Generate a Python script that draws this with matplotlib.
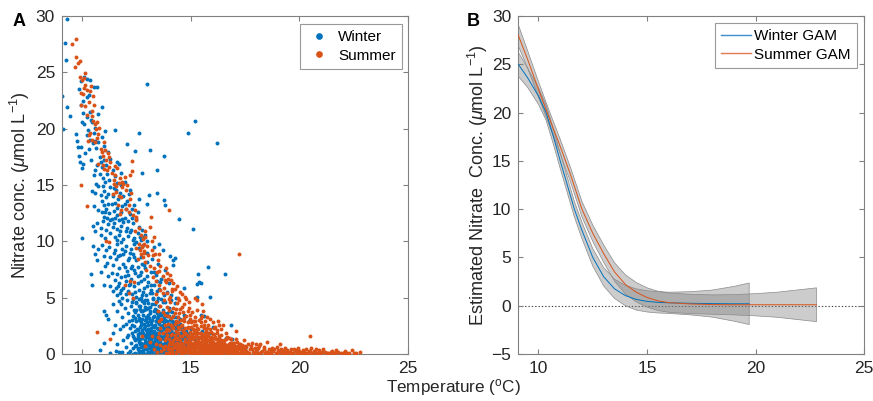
import numpy as np
import matplotlib
matplotlib.use("Agg")
import matplotlib.pyplot as plt
from matplotlib.lines import Line2D

plt.rcParams['font.family'] = ['Liberation Sans', 'DejaVu Sans']
plt.rcParams['mathtext.fontset'] = 'custom'
plt.rcParams['mathtext.rm'] = 'Liberation Sans'
plt.rcParams['mathtext.it'] = 'Liberation Sans:italic'
plt.rcParams['mathtext.bf'] = 'Liberation Sans:bold'

# ---------------- Panel A data: (temperature, nitrate) ----------------
winter_pts = [
 (9.28,29.7),(9.20,27.6),(9.27,26.1),(9.07,22.9),(9.28,21.9),(9.10,20.0),(9.45,21.1),(12.99,24.0),(15.18,20.7),
 (14.85,19.6),(16.2,18.7),(12.6,19.6),(11.5,19.9),(13.1,18.1),(13.77,17.6),(12.42,18.0),(12.06,18.6),(13.44,16.3),
 (12.76,16.1),(13.44,14.3),(13.08,14.1),(13.77,13.7),(13.81,13.2),(12.99,13.3),(12.6,13.8),(14.47,12.0),(15.1,11.1),
 (16.56,7.1),(15.8,7.7),(15.32,7.1),(15.4,6.4),(15.28,6.2),(15.45,6.3),(15.28,5.1),(15.9,5.1),(14.7,5.9),(16.84,2.6),
 (14.16,8.3),(14.05,8.7),(14.28,8.5),(14.2,7.9),(10.0,10.3),(10.4,7.1),(10.47,6.1),(11.0,3.8),(11.1,3.5),(10.8,0.35),
 (11.0,0.95),(11.4,1.9),(11.3,0.1),(11.55,0.3),(11.7,0.2),(11.85,0.15),(12.1,0.1),(16.6,1.4),(16.3,1.3),(16.0,2.4),
 (15.6,3.4),(15.45,3.5),(15.9,1.9),(15.5,2.0),(15.3,1.9),(16.9,1.3),(17.2,0.6),(17.5,0.5),(18.0,0.3),
 (9.7,19.5),(9.75,18.9),(9.8,18.4),(9.85,17.6),(9.95,18.4),(9.9,17.0),(10.05,16.9),(10.0,16.5),(10.15,17.8),(10.3,18.2),
 (10.2,19.4),(10.35,19.0),(10.5,18.7),(10.6,18.9),(10.65,18.3),(10.75,18.8),(10.8,17.5),(10.85,17.0),(10.7,16.8),
 (10.6,16.3),(10.8,16.0),(10.9,16.6),(10.95,15.6),(11.0,17.2),(11.1,16.8),(11.2,17.9),(11.3,17.3),(11.15,16.0),
 (11.25,15.4),(11.4,16.3),(11.5,15.8),(11.6,17.0),(11.7,16.9),(11.6,15.2),(11.8,16.1),(11.95,15.3),(10.55,15.9),
 (10.65,15.1),(11.05,15.3),(10.4,17.2),(11.0,18.5),(10.9,19.3),(11.05,19.8),(10.6,20.1),(10.75,21.3),(10.9,21.9),
 (10.45,20.6),(10.35,21.5),(10.2,21.0),(10.1,20.4),(10.0,20.6),(9.95,22.1),(10.05,22.5),(10.2,22.8),(10.3,23.0),
 (9.85,23.5),(9.95,24.2),(10.1,24.6),(10.2,24.4),(10.35,24.3),(10.55,23.7),(10.7,23.7),(10.05,21.4),(10.25,19.9),
 (10.55,19.6),(10.4,20.8),
 (10.6,14.3),(10.75,14.9),(10.85,14.1),(10.9,13.6),(11.0,14.5),(11.1,13.9),(11.2,14.2),(11.3,14.8),(11.4,14.0),
 (11.5,13.4),(11.55,14.6),(11.65,13.8),(11.75,14.3),(11.85,13.1),(11.9,14.0),(12.05,13.6),(12.2,14.6),(12.3,12.9),
 (10.55,13.1),(10.75,12.8),(10.9,12.6),(11.0,12.2),(11.1,12.9),(11.25,12.5),(11.35,12.0),(11.45,12.7),(11.6,12.3),
 (11.7,11.9),(11.8,12.6),(11.95,12.1),(12.1,11.8),(12.2,12.4),(12.35,11.6),(12.5,12.0),(12.6,11.3),(12.75,11.0),
 (12.9,10.6),(10.7,11.6),(10.85,11.2),(10.95,11.8),(11.1,11.0),(11.2,11.5),(11.3,10.7),(11.4,11.3),(11.5,10.4),
 (11.6,11.1),(11.7,10.6),(11.8,11.4),(11.9,10.2),(12.0,10.9),(12.1,10.5),(12.25,11.0),(12.4,10.3),(12.55,10.7),
 (12.7,10.1),(12.85,10.4),(13.0,10.0),(11.05,10.3),(10.85,10.6),(10.6,10.9),(10.5,11.4),(11.35,13.3),(11.0,13.2),
 (12.4,13.2),(12.0,12.9),(10.45,14.5),(11.8,15.0),(12.55,12.6),(12.15,14.2),
 (10.5,9.6),(10.6,8.9),(10.7,8.3),(10.75,9.3),(10.9,9.7),(11.0,8.7),(11.1,9.2),(11.15,8.1),(11.25,9.5),(11.3,8.6),
 (11.4,7.9),(11.45,9.0),(11.55,8.4),(11.6,9.8),(11.7,7.6),(11.75,8.8),(11.85,9.3),(11.9,8.0),(12.0,9.6),(12.05,7.4),
 (12.15,8.5),(12.2,9.0),(12.3,7.8),(12.35,8.9),(12.45,7.2),(12.5,8.3),(12.6,9.4),(12.65,7.0),(12.75,8.0),(12.85,6.7),
 (12.9,7.6),(13.0,9.0),(13.05,6.4),(13.15,7.3),(13.2,8.4),(13.3,6.1),(13.4,7.0),(13.5,8.0),(13.55,5.8),(13.65,6.7),
 (13.7,9.2),(13.8,7.5),(13.9,5.5),(14.0,6.3),(14.1,5.2),(10.85,7.3),(11.05,7.8),(11.2,6.9),(11.35,7.2),(11.5,6.6),
 (11.6,7.1),(11.7,6.3),(11.8,6.8),(11.9,5.9),(12.0,6.5),(12.1,5.6),(12.2,6.2),(12.3,5.3),(12.4,6.0),(12.5,5.1),
 (12.6,5.7),(12.7,5.0),(12.8,5.5),(12.95,5.2),(13.1,5.4),(13.25,5.0),(11.4,5.6),(11.6,5.2),(11.75,5.4),(11.85,5.0),
 (11.95,6.9),(12.25,7.6),(12.55,6.9),(12.8,9.7),(13.3,9.5),(13.55,9.8),(13.0,8.2),(12.4,9.8),(11.3,6.0),(11.55,5.9),
 (11.9,8.9),(12.7,8.6),(13.45,6.5),(13.75,5.2),(14.3,5.0),(11.0,6.1),
 (11.5,9.2),(11.65,8.7),(11.8,9.9),(11.95,9.1),(12.1,8.3),(12.25,9.3),(12.4,8.6),(12.55,7.7),(12.7,7.3),(12.85,7.9),
 (13.0,6.9),(13.15,6.1),(13.3,7.3),(13.45,5.6),(13.6,6.4),(11.95,7.7),(12.1,7.0),(12.25,6.7),(12.4,7.5),(12.55,6.3),
 (12.7,6.5),(12.85,5.9),(13.0,6.0),(13.15,5.7),(11.65,6.0),(11.8,5.7),(12.0,5.3),(12.15,6.1),(12.3,4.6),(12.45,5.5),
 (12.6,4.3),(12.75,5.2),(12.9,4.8),(13.05,4.5),(13.2,5.4),(13.35,4.4),(13.5,5.0),(13.7,4.6),(11.3,11.9),(11.45,11.6),
 (11.6,10.1),(11.75,10.9),(11.9,11.7),(12.05,11.2),(12.2,10.8),(12.35,10.1),(12.5,9.9),(12.65,10.4),(11.15,12.1),
 (11.5,12.1),(11.85,12.0),(12.3,12.1),(11.2,13.3),(11.6,13.0),(11.95,13.3),(10.95,14.9),(11.45,14.7),(11.05,12.6),
 (11.2,3.1),(11.4,4.4),(11.5,2.6),(11.6,3.8),(11.7,4.7),(11.75,2.2),(11.85,3.3),(11.95,4.1),(12.0,2.7),(12.05,4.8),
 (12.1,3.6),(12.2,2.3),(12.25,4.3),(12.3,3.0),(12.35,4.9),(12.4,2.5),(12.45,3.7),(12.5,4.5),(12.55,2.1),(12.6,3.2),
 (12.65,4.0),(12.7,2.8),(12.75,4.7),(12.8,3.5),(12.85,2.3),(12.9,4.2),(12.95,3.0),(13.0,4.8),(13.05,2.6),(13.1,3.8),
 (13.15,2.0),(13.2,4.4),(13.25,3.3),(13.3,2.4),(13.35,4.0),(13.4,2.9),(13.45,3.6),(13.5,2.2),(13.55,4.3),(13.6,3.1),
 (13.65,2.5),(13.7,3.9),(13.75,2.8),(13.8,4.6),(13.85,2.1),(13.9,3.4),(13.95,2.6),(14.0,4.1),(14.05,3.0),(14.1,2.3),
 (14.15,3.7),(14.2,2.7),(14.25,4.5),(14.3,2.2),(14.35,3.3),(14.4,2.5),(14.5,3.1),(14.6,2.4),(14.7,3.5),(14.8,2.0),
 (14.9,2.9),(15.0,2.2),(12.15,2.9),(12.45,2.0),(12.75,3.8),(13.05,3.5),(13.25,4.9),(13.45,4.7),(13.65,4.9),(12.95,2.1),
 (12.35,3.4),(11.9,2.5),(12.6,4.9),(13.15,2.8),(13.75,3.3),(13.9,2.0),(14.1,4.8),(12.85,4.5),(12.5,3.9),(11.8,4.4),
 (11.9,1.2),(12.0,0.6),(12.1,1.7),(12.2,0.3),(12.25,1.0),(12.3,1.9),(12.35,0.5),(12.4,1.4),(12.45,0.1),(12.5,0.8),
 (12.55,1.6),(12.6,0.3),(12.62,1.1),(12.65,1.9),(12.7,0.6),(12.72,0.05),(12.75,1.4),(12.8,0.9),(12.82,0.2),(12.85,1.7),
 (12.88,0.5),(12.9,1.2),(12.92,0.02),(12.95,0.8),(12.97,1.9),(13.0,0.4),(13.02,1.5),(13.05,0.1),(13.07,1.0),(13.1,0.6),
 (13.12,1.8),(13.15,0.3),(13.17,1.3),(13.2,0.05),(13.22,0.8),(13.25,1.6),(13.27,0.4),(13.3,1.1),(13.32,0.02),(13.35,0.7),
 (13.37,1.9),(13.4,0.2),(13.42,1.4),(13.45,0.5),(13.47,1.0),(13.5,0.1),(13.52,1.7),(13.55,0.6),(13.57,0.3),(13.6,1.2),
 (13.62,0.05),(13.65,0.9),(13.67,1.5),(13.7,0.35),(13.72,0.7),(13.75,0.1),(13.77,1.8),(13.8,0.5),(13.82,1.1),(13.85,0.2),
 (13.87,0.8),(13.9,1.4),(13.92,0.05),(13.95,0.6),(13.97,1.0),(14.0,0.3),(14.02,1.6),(14.05,0.1),(14.08,0.8),(14.1,1.2),
 (14.12,0.4),(14.15,0.02),(14.18,1.9),(14.2,0.6),(14.22,1.0),(14.25,0.2),(14.28,1.4),(14.3,0.5),(14.33,0.05),(14.35,0.9),
 (14.38,1.6),(14.4,0.3),(14.45,1.1),(14.5,0.1),(14.55,0.7),(14.6,1.3),(14.65,0.4),(14.7,0.9),(14.75,0.1),(14.8,1.5),
 (14.85,0.5),(14.9,0.2),(14.95,1.0),(15.0,0.3),(15.1,0.7),(15.2,1.2),(15.3,0.2),(15.4,0.5),(15.5,0.9),(12.15,0.05),
 (12.45,1.2),(12.58,0.55),(12.68,1.35),(12.78,0.35),(12.93,1.5),(13.03,0.85),(13.13,0.2),(13.28,1.85),(13.38,1.2),
 (13.48,0.75),(13.58,1.95),(13.68,0.6),(13.78,1.3),(13.88,0.45),(13.98,1.75),(14.08,0.25),(14.18,1.05),(14.28,0.75),
 (14.42,1.85),(14.52,0.45),(14.62,0.02),(14.72,1.7),(14.82,0.85),(15.05,1.6),(15.15,0.1),(15.35,1.4),(15.6,0.4),
 (15.7,1.1),(15.8,0.15),(16.0,0.6),(11.6,0.9),(12.05,1.5),(12.35,0.02),(12.55,0.02),(12.85,0.02),(13.15,0.02),
 (12.31,2.6),(12.38,3.9),(12.42,0.7),(12.47,2.9),(12.52,1.3),(12.57,3.5),(12.61,0.2),(12.64,2.4),(12.67,4.3),(12.71,1.0),
 (12.74,2.1),(12.77,3.1),(12.79,0.7),(12.83,2.7),(12.86,3.9),(12.89,1.0),(12.91,2.5),(12.94,0.4),(12.96,3.3),(12.99,1.7),
 (13.01,2.2),(13.04,4.1),(13.06,0.7),(13.08,1.3),(13.11,2.9),(13.13,3.6),(13.16,0.9),(13.18,2.3),(13.21,1.5),(13.23,3.0),
 (13.26,0.6),(13.29,2.0),(13.31,3.8),(13.33,1.3),(13.36,2.6),(13.39,0.3),(13.41,1.8),(13.44,3.2),(13.46,2.3),(13.49,1.3),
 (13.51,0.4),(13.54,2.7),(13.56,1.1),(13.59,3.6),(13.61,2.0),(13.64,0.8),(13.66,2.4),(13.69,1.4),(13.71,3.1),(13.74,0.6),
 (13.76,2.2),(13.79,1.0),(13.81,3.0),(13.84,1.6),(13.86,2.4),(13.89,0.3),(13.91,2.9),(13.94,1.2),(13.96,2.1),(13.99,0.8),
 (14.01,3.4),(14.04,1.5),(14.06,2.6),(14.09,0.5),(14.11,1.9),(14.14,2.9),(14.16,0.9),(14.19,1.5),(14.21,3.3),(14.24,0.4),
 (14.26,2.5),(14.29,1.7),(14.31,0.2),(14.34,2.1),(14.36,1.2),(14.39,2.8),(14.41,0.6),(14.44,1.6),(14.46,2.3),(14.49,0.9),
 (14.53,1.9),(14.57,0.3),(14.61,1.0),(14.66,2.2),(14.71,0.6),(14.76,1.3),(14.81,0.2),(14.86,1.8),(14.92,0.7),(14.97,1.3),
 (12.36,1.6),(12.41,3.2),(12.46,4.6),(12.51,2.2),(12.56,0.4),(12.59,1.8),(12.63,3.0),(12.66,0.9),(12.69,2.6),(12.73,3.8),
 (12.76,0.3),(12.81,1.9),(12.84,0.8),(12.87,3.0),(12.9,1.6),(12.93,4.0),(12.98,2.8),(13.0,1.1),(13.03,0.2),(13.06,3.2),
 (13.09,2.0),(13.12,0.5),(13.14,4.2),(13.17,1.6),(13.19,2.7),(13.22,0.3),(13.24,1.1),(13.27,2.5),(13.3,3.4),(13.32,0.9),
 (13.35,1.6),(13.38,2.9),(13.4,3.9),(13.43,0.7),(13.45,1.9),(13.48,2.8),(13.5,3.4),(13.53,1.0),(13.55,2.2),(13.58,0.2),
 (13.6,1.6),(13.63,2.9),(13.65,3.5),(13.68,0.5),(13.7,1.9),(13.73,2.6),(13.75,3.6),(13.78,0.9),(13.8,1.6),(13.83,2.5),
 (13.85,0.6),(13.88,1.9),(13.9,3.6),(13.93,2.4),(13.95,1.5),(13.98,0.2),(14.0,2.7),(14.03,1.0),(14.05,3.8),(14.08,2.0),
 (14.1,0.7),(14.13,1.4),(14.15,2.3),(14.18,0.3),(14.2,1.8),(14.23,2.8),(14.25,1.1),(14.28,0.1),(14.3,1.6),(14.33,2.6),
 (14.35,0.7),(14.38,1.9),(14.4,1.1),(14.43,0.4),(14.47,1.4),(14.51,2.7),(14.55,1.1),(14.6,2.0),(14.64,0.6),(14.69,1.5),
 (14.74,0.9),(14.79,1.9),(14.84,0.4),(14.89,1.1),(14.94,0.5),
]

summer_pts = [
 (9.7,28.0),(9.51,27.5),(9.72,26.4),(9.88,26.0),(9.8,25.8),(9.68,25.5),(9.9,24.6),(10.0,24.3),(10.1,24.5),(10.15,23.9),
 (10.4,23.8),(10.35,23.3),(10.05,23.1),(9.95,22.1),(10.15,22.0),(10.3,22.4),(10.45,21.6),(10.2,21.2),(10.5,20.7),
 (10.6,20.4),(10.7,20.6),(10.65,20.0),(10.75,19.5),(10.3,19.4),(10.25,18.9),(10.1,23.6),(9.95,23.2),(10.55,22.1),
 (10.35,19.6),(10.45,19.0),(10.6,18.8),(10.85,18.2),(10.95,17.6),(11.05,18.1),(11.2,17.8),(11.1,17.2),(10.95,16.8),
 (11.25,16.6),(11.35,16.1),(11.5,16.7),(11.6,16.5),(11.75,15.6),(11.85,15.3),(11.9,15.1),(12.05,15.0),(12.2,15.9),
 (12.3,16.2),(12.3,17.1),(11.7,15.2),(11.45,15.4),(11.3,17.0),(11.0,16.4),(10.75,16.9),(9.94,15.0),(11.95,15.7),
 (11.55,14.9),(12.0,14.6),(12.25,14.3),
 (10.2,13.1),(11.4,14.2),(11.55,14.4),(11.65,13.2),(11.8,12.8),(12.0,12.9),(12.15,13.2),(12.35,12.3),(12.5,11.9),
 (12.6,11.2),(12.7,10.6),(12.8,10.2),(12.85,9.8),(12.75,9.6),(13.1,11.3),(13.3,10.4),(13.15,12.2),(14.0,12.8),
 (11.75,12.4),(12.45,12.8),(12.9,10.9),(13.2,10.0),(11.1,10.0),(11.25,9.9),(11.7,14.0),
 (10.12,24.9),(10.2,23.4),(10.48,22.9),(10.45,21.1),(10.78,20.1),(10.7,19.2),(11.0,18.8),(10.9,17.9),(11.25,17.5),
 (11.15,16.3),(11.5,15.9),(11.45,15.1),(11.85,14.8),(11.8,13.9),(12.2,13.8),(12.15,12.6),(12.5,12.2),(12.45,10.9),
 (12.9,10.4),(12.85,9.0),(13.25,8.8),(13.1,7.8),(13.55,7.4),(13.4,6.5),(13.85,6.4),(13.7,5.4),(14.15,5.8),(14.0,4.9),
 (13.85,7.6),(13.55,8.9),
 (12.5,9.4),(12.6,9.8),(12.65,9.2),(12.7,8.9),(12.75,9.5),(12.8,8.6),(12.85,9.1),(12.9,8.2),(13.0,9.6),(13.05,8.8),
 (13.2,9.2),(13.35,8.9),(13.5,8.3),(13.3,7.6),(13.45,7.3),(13.6,7.8),(13.7,6.9),(13.8,6.6),(13.9,7.2),(13.95,6.7),
 (14.05,7.0),(14.1,6.6),(14.2,6.3),(14.25,5.8),(14.35,6.0),(14.5,5.5),(13.55,6.1),(13.6,5.7),(13.75,5.9),(13.9,5.4),
 (14.05,5.1),(14.15,5.6),(14.4,5.0),(14.6,5.3),(14.75,5.1),(14.8,4.9),(12.4,6.4),(12.2,6.5),(13.25,6.8),(12.95,7.5),
 (12.55,8.4),(11.95,6.1),(12.35,5.0),(13.4,5.3),(15.2,5.0),(12.15,5.4),
 (13.4,4.6),(13.5,3.8),(13.6,4.3),(13.65,3.1),(13.75,4.8),(13.8,3.5),(13.9,4.2),(13.95,2.7),(14.0,3.9),(14.05,4.6),
 (14.1,3.2),(14.15,2.4),(14.2,4.1),(14.25,3.6),(14.3,2.9),(14.35,4.5),(14.4,3.3),(14.45,2.2),(14.5,4.0),(14.55,3.0),
 (14.6,2.6),(14.65,3.7),(14.7,4.4),(14.75,2.3),(14.8,3.4),(14.85,2.8),(14.9,4.1),(14.95,3.1),(15.0,2.4),(15.05,3.7),
 (15.1,2.9),(15.15,2.1),(15.2,3.3),(15.25,2.6),(15.3,3.9),(15.35,2.2),(15.4,3.0),(15.45,2.5),(15.5,3.4),(15.6,2.3),
 (15.65,2.9),(15.7,2.0),(15.8,2.6),(15.9,2.2),(16.0,2.8),(16.1,2.4),(16.2,2.1),(16.3,2.6),(16.4,2.2),(14.0,2.1),
 (14.3,2.0),(13.8,2.6),(13.55,2.9),(14.45,4.8),(14.9,4.6),(15.5,4.4),(15.3,4.8),(13.85,2.05),(15.55,3.8),(14.65,2.05),
 (15.9,3.1),(16.5,2.6),(17.06,2.0),(11.28,1.3),(10.69,1.98),(17.24,8.87),
 (14.1,2.6),(14.25,2.7),(14.4,2.8),(14.55,2.5),(14.7,2.9),(14.85,2.4),(15.0,2.8),(15.15,2.6),(15.3,2.3),(15.45,2.8),
 (15.6,2.6),(15.75,2.3),(14.2,3.4),(14.45,3.6),(14.7,3.2),(14.95,3.5),(15.2,2.9),(15.45,3.2),(14.3,4.0),(14.6,4.2),
 (14.85,3.8),(13.95,3.4),(13.7,3.7),(13.6,2.3),(15.75,3.3),(16.05,2.3),(16.25,2.9),
 (13.5,1.5),(13.6,0.8),(13.7,1.9),(13.75,0.4),(13.8,1.2),(13.85,0.1),(13.9,1.7),(13.95,0.6),(14.0,1.3),(14.05,0.2),
 (14.1,0.9),(14.15,1.8),(14.2,0.5),(14.25,1.4),(14.3,0.05),(14.35,1.0),(14.4,1.9),(14.45,0.3),(14.5,1.2),(14.55,0.7),
 (14.6,1.6),(14.62,0.1),(14.65,0.9),(14.7,0.4),(14.72,1.3),(14.75,1.9),(14.8,0.6),(14.82,0.15),(14.85,1.1),(14.88,1.6),
 (14.9,0.3),(14.93,0.8),(14.95,1.4),(14.98,0.05),(15.0,0.5),(15.02,1.0),(15.05,1.8),(15.08,0.25),(15.1,0.7),(15.12,1.3),
 (15.15,0.02),(15.18,0.45),(15.2,1.0),(15.22,1.6),(15.25,0.2),(15.28,0.7),(15.3,1.2),(15.32,0.05),(15.35,0.5),(15.38,1.5),
 (15.4,0.9),(15.42,0.15),(15.45,0.6),(15.48,1.1),(15.5,0.3),(15.52,1.7),(15.55,0.8),(15.58,0.05),(15.6,0.4),(15.62,1.3),
 (15.65,0.7),(15.68,0.2),(15.7,1.0),(15.72,1.6),(15.75,0.35),(15.78,0.8),(15.8,0.1),(15.82,1.2),(15.85,0.5),(15.88,0.9),
 (15.9,0.02),(15.92,1.5),(15.95,0.3),(15.98,0.7),(16.0,1.1),(16.03,0.15),(16.05,0.5),(16.08,1.8),(16.1,0.9),(16.13,0.25),
 (16.15,0.6),(16.18,1.3),(16.2,0.05),(16.23,0.4),(16.25,0.9),(16.28,1.6),(16.3,0.2),(16.33,0.6),(16.35,1.1),(16.38,0.02),
 (16.4,0.4),(16.45,0.8),(16.5,0.15),(16.55,1.2),(16.6,0.5),(16.65,0.1),(16.7,0.8),(16.75,1.4),(16.8,0.3),(16.85,0.6),
 (16.9,0.05),(16.95,1.0),(17.0,0.3),(17.05,0.7),(17.1,0.1),(17.15,1.1),(17.2,0.4),(17.3,0.2),(17.35,0.8),(17.4,0.05),
 (17.45,0.5),(17.5,0.15),(14.05,0.55),(14.15,1.05),(14.28,0.6),(14.38,1.45),(14.48,0.85),(14.58,0.25),(14.68,1.75),
 (14.78,1.05),(14.87,0.55),(14.97,1.95),(15.07,1.45),(15.17,0.75),(15.27,1.9),(15.37,0.3),(15.47,1.85),(15.57,1.2),
 (15.67,1.9),(15.77,0.6),(15.87,1.35),(15.97,0.45),(16.07,1.45),(16.17,0.85),(16.27,1.2),(16.37,1.7),(16.47,0.6),
 (16.57,0.3),(16.67,1.5),(16.77,0.9),(16.87,1.3),(16.97,0.5),(17.07,1.3),(17.17,0.7),(17.27,0.9),(17.37,0.35),
 (17.55,0.6),(17.6,0.2),(17.65,0.9),(14.3,0.95),(14.5,0.45),(14.7,0.15),(14.9,1.25),(15.1,0.35),(15.3,0.85),(15.5,1.35),
 (15.7,0.55),(15.9,0.65),(16.1,0.35),(16.3,1.0),(16.5,0.35),(16.7,0.25),(16.9,0.75),(17.1,0.45),(17.3,0.55),(16.2,1.9),
 (16.0,1.75),(15.8,1.9),(16.6,1.85),(15.95,1.95),(13.65,0.3),(13.4,0.9),(13.3,0.4),(13.2,1.6),(13.1,1.1),(12.9,0.7),
 (12.75,1.6),(13.55,1.9),(13.95,0.05),(14.1,0.02),
 (13.82,0.7),(13.88,1.4),(13.92,2.2),(13.97,0.4),(14.02,1.1),(14.07,1.7),(14.12,0.3),(14.17,2.3),(14.22,0.8),(14.27,1.7),
 (14.32,0.2),(14.37,1.3),(14.42,2.4),(14.47,0.6),(14.52,1.6),(14.57,1.0),(14.62,2.1),(14.67,0.5),(14.71,1.1),(14.76,0.3),
 (14.81,1.7),(14.85,0.8),(14.89,2.3),(14.93,0.2),(14.97,1.1),(15.01,1.6),(15.04,0.4),(15.08,2.2),(15.11,0.9),(15.14,1.5),
 (15.17,0.3),(15.21,1.1),(15.24,2.0),(15.27,0.6),(15.31,1.5),(15.34,0.1),(15.37,0.9),(15.41,1.9),(15.44,0.4),(15.47,1.4),
 (15.51,0.8),(15.54,0.1),(15.57,1.6),(15.61,0.6),(15.64,1.1),(15.67,0.3),(15.71,1.4),(15.74,0.8),(15.77,0.1),(15.81,1.6),
 (15.84,0.4),(15.87,1.1),(15.91,0.7),(15.94,0.2),(15.97,1.3),(16.01,0.5),(16.04,0.9),(16.07,0.2),(16.11,1.5),(16.14,0.6),
 (16.17,0.1),(16.21,1.0),(16.24,0.3),(16.27,0.7),(16.31,1.3),(16.34,0.2),(16.37,0.8),(16.41,1.2),(16.44,0.3),(16.48,0.6),
 (16.52,1.0),(16.56,0.2),(16.6,0.8),(16.64,1.3),(16.68,0.4),(16.72,0.1),(16.76,0.6),(16.81,1.0),(16.86,0.2),(16.91,0.5),
 (16.96,0.3),(17.01,1.0),(17.06,0.2),(17.11,0.6),(17.18,0.1),(17.25,0.5),(17.33,0.1),(17.42,0.3),(17.48,0.7),(17.52,0.05),
 (14.15,0.05),(14.35,0.4),(14.55,0.05),(14.75,0.65),(14.95,0.45),(15.15,1.9),(15.35,1.15),(15.55,0.45),(15.75,1.25),
 (15.95,0.95),(16.15,0.4),(16.35,0.5),(16.55,0.7),(16.75,0.15),(16.95,0.7),(17.15,0.25),(17.35,0.6),(15.05,0.15),
 (15.25,0.1),(15.45,0.15),(15.65,0.05),(15.85,0.25),(16.05,0.05),(16.25,0.15),(16.45,0.05),(16.65,0.65),(16.85,0.95),
 (14.6,0.55),(14.8,0.35),(15.0,0.9),(15.2,0.55),(15.4,0.3),(15.6,0.9),(15.8,0.45),(16.0,0.35),(16.2,0.75),(16.4,0.95),
 (16.6,0.15),(16.8,0.55),(17.0,0.15),(17.2,0.85),(17.4,0.5),(14.4,0.7),(14.2,1.25),(14.0,0.85),(13.7,0.6),(13.6,1.3),
 (13.45,0.2),
 (17.7,0.1),(17.8,0.4),(17.9,0.05),(18.0,0.25),(18.1,0.5),(18.2,0.1),(18.3,0.3),(18.4,0.05),(18.5,0.2),(18.5,1.1),
 (18.6,0.4),(18.7,0.1),(18.8,0.25),(18.9,0.05),(19.0,0.35),(19.1,0.9),(19.1,0.15),(19.2,0.05),(19.3,0.3),(19.4,0.1),
 (19.5,0.2),(19.6,0.4),(19.7,0.05),(19.8,0.25),(19.9,0.1),(20.0,0.3),(20.1,0.05),(20.2,0.2),(20.3,0.45),(20.4,0.1),
 (20.47,1.63),(20.5,0.3),(20.6,0.05),(20.7,0.2),(20.8,0.1),(20.9,0.35),(21.0,0.05),(21.2,0.2),(21.3,0.1),(21.5,0.3),
 (21.6,0.05),(21.8,0.2),(22.0,0.1),(22.1,0.25),(22.3,0.05),(22.4,0.35),(22.5,0.1),(22.8,0.15),(17.75,0.7),(17.95,0.55),
 (18.15,0.75),(18.35,0.6),(18.55,0.05),(18.75,0.5),(18.95,0.6),(19.15,0.45),(19.35,0.55),(19.55,0.05),(19.75,0.45),
 (19.95,0.5),(20.15,0.35),(20.35,0.05),(20.55,0.55),(20.75,0.45),(21.1,0.4),(21.4,0.05),(21.7,0.35),(21.9,0.05),
 (22.2,0.05),(22.6,0.05),
 (17.55,0.3),(17.65,0.05),(17.72,0.45),(17.85,0.2),(17.98,0.1),(18.05,0.4),(18.12,0.05),(18.25,0.2),(18.38,0.4),
 (18.45,0.15),(18.62,0.05),(18.68,0.3),(18.82,0.45),(18.98,0.1),(19.05,0.25),(19.22,0.35),(19.28,0.05),(19.45,0.35),
 (19.58,0.2),(19.65,0.05),(19.85,0.35),(19.92,0.05),(20.05,0.15),(20.25,0.05),(20.42,0.25),(20.65,0.3),(20.85,0.05),
 (21.05,0.2),(21.25,0.05),(21.45,0.2),(21.65,0.1),(22.05,0.05),(17.8,1.0),(18.2,0.85),(17.45,1.2),(18.0,0.9),
]

# ---------------- Panel B data: GAM fits with CI half-widths ----------------
winter_gam_t = [9.07, 9.5, 10.0, 10.35, 10.7, 11.0, 11.3, 11.65, 12.0, 12.5, 13.0, 13.5, 14.0, 14.5, 15.0, 15.5, 16.0, 17.0, 18.0, 19.0, 19.7]
winter_gam_y = [25.0, 23.6, 21.7, 20.0, 17.4, 15.0, 12.7, 10.0, 7.8, 5.0, 3.0, 1.75, 1.05, 0.65, 0.45, 0.35, 0.3, 0.25, 0.22, 0.2, 0.2]
winter_gam_ci = [1.25, 1.0, 0.85, 0.8, 0.8, 0.8, 0.8, 0.8, 0.85, 0.9, 0.95, 1.0, 1.05, 1.1, 1.1, 1.1, 1.1, 1.2, 1.4, 1.8, 2.15]

summer_gam_t = [9.07, 9.5, 10.0, 10.5, 11.0, 11.5, 12.0, 12.5, 13.0, 13.5, 14.0, 14.5, 15.0, 15.5, 16.0, 17.0, 18.0, 19.0, 20.0, 21.0, 22.0, 22.8]
summer_gam_y = [28.0, 25.5, 22.4, 19.4, 16.5, 13.4, 10.0, 7.5, 5.4, 3.5, 2.2, 1.4, 0.85, 0.5, 0.32, 0.18, 0.12, 0.1, 0.1, 0.1, 0.1, 0.1]
summer_gam_ci = [1.1, 0.9, 0.8, 0.75, 0.75, 0.75, 0.8, 0.85, 0.9, 0.95, 1.0, 1.0, 1.0, 1.0, 1.0, 1.0, 1.0, 1.05, 1.15, 1.3, 1.55, 1.75]

BLUE = '#0072BD'
ORANGE = '#D95319'
AXC = '#808080'
TXT = '#262626'

fig = plt.figure(figsize=(8.73, 4.01), dpi=100)
axA = fig.add_axes([62/873, 47/401, 346/873, 338/401])
axB = fig.add_axes([518.3/873, 47/401, 346/873, 338/401])

def style(ax):
    for sp in ax.spines.values():
        sp.set_color(AXC)
        sp.set_linewidth(0.8)
    ax.tick_params(direction='in', length=3.5, width=0.8, color=AXC, labelcolor=TXT,
                   labelsize=12.5, top=True, right=True, pad=5)

w = np.array(winter_pts)
s = np.array(summer_pts)
axA.scatter(w[:, 0], w[:, 1], s=8, color=BLUE, linewidths=0, label='Winter', zorder=2)
axA.scatter(s[:, 0], s[:, 1], s=8, color=ORANGE, linewidths=0, label='Summer', zorder=3)
axA.set_xlim(9.07, 25)
axA.set_ylim(0, 30)
axA.set_xticks([10, 15, 20, 25])
axA.set_yticks([0, 5, 10, 15, 20, 25, 30])
style(axA)
axA.set_ylabel('Nitrate conc. ($\\mu$mol L$^{-1}$)', fontsize=13, color=TXT)
axA.yaxis.set_label_coords(-0.087, 0.5)
legA = axA.legend(handles=[Line2D([], [], ls='none', marker='o', ms=3.8, color=BLUE, label='Winter'),
                           Line2D([], [], ls='none', marker='o', ms=3.8, color=ORANGE, label='Summer')],
                  loc='upper right', fontsize=11, frameon=True, fancybox=False, edgecolor=AXC,
                  handlelength=1.6, handletextpad=0.5, borderpad=0.4, labelspacing=0.3,
                  bbox_to_anchor=(0.983, 0.976), borderaxespad=0)
legA.get_frame().set_linewidth(0.8)

# Panel B
wt = np.array(winter_gam_t); wy = np.array(winter_gam_y); wc = np.array(winter_gam_ci)
st = np.array(summer_gam_t); sy = np.array(summer_gam_y); sc = np.array(summer_gam_ci)
axB.axhline(0, color='#404040', lw=0.8, ls=(0, (1.2, 1.8)), zorder=1)
axB.fill_between(wt, wy - wc, wy + wc, facecolor='#808080', alpha=0.4, edgecolor='none', zorder=2)
axB.fill_between(st, sy - sc, sy + sc, facecolor='#808080', alpha=0.4, edgecolor='none', zorder=2)
for t, y, c in ((wt, wy, wc), (st, sy, sc)):
    axB.plot(np.r_[t, t[::-1], t[:1]], np.r_[y - c, (y + c)[::-1], (y - c)[:1]], color='#8a8a8a', lw=0.5, zorder=3)
axB.plot(wt, wy, color=BLUE, lw=0.7, zorder=4)
axB.plot(st, sy, color=ORANGE, lw=0.7, zorder=4)
axB.set_xlim(9.07, 25)
axB.set_ylim(-5, 30)
axB.set_xticks([10, 15, 20, 25])
axB.set_yticks([-5, 0, 5, 10, 15, 20, 25, 30])
style(axB)
axB.set_ylabel('Estimated Nitrate  Conc. ($\\mu$mol L$^{-1}$)', fontsize=13, color=TXT)
axB.yaxis.set_label_coords(-0.082, 0.5)
legB = axB.legend(handles=[Line2D([], [], color='#3d8fd1', lw=1.0, label='Winter GAM'),
                           Line2D([], [], color='#e07a50', lw=1.0, label='Summer GAM')],
                  loc='upper right', fontsize=11, frameon=True, fancybox=False, edgecolor=AXC,
                  handlelength=2.0, handletextpad=0.2, borderpad=0.4, labelspacing=0.3,
                  bbox_to_anchor=(0.979, 0.979), borderaxespad=0)
legB.get_frame().set_linewidth(0.8)

fig.text(453/873, 1 - 388/401, 'Temperature ($^{\\rm o}$C)', ha='center', va='center', fontsize=12.3, color=TXT)
fig.text(19/873, 1 - 21/401, 'A', ha='center', va='center', fontsize=13, fontweight='bold', color='black')
fig.text(473/873, 1 - 21/401, 'B', ha='center', va='center', fontsize=13, fontweight='bold', color='black')

fig.savefig('out.png', dpi=100)
